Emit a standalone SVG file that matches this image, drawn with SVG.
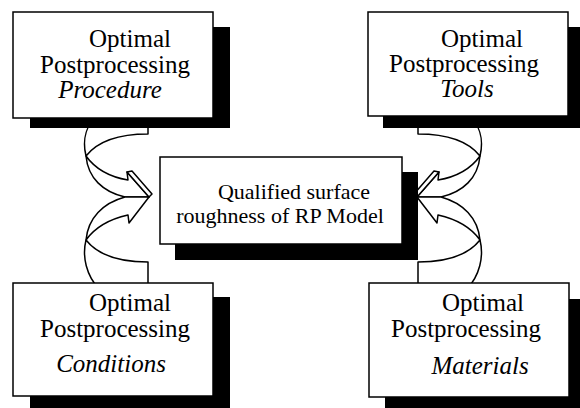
<svg xmlns="http://www.w3.org/2000/svg" width="580" height="408" viewBox="0 0 580 408">
  <style>
    .box { fill: #ffffff; stroke: #000000; stroke-width: 1.5; }
    .shadow { fill: #000000; stroke: none; }
    .arr { fill: #ffffff; stroke: #000000; stroke-width: 1.5; stroke-linejoin: round; }
    .t { font-family: "Liberation Serif", "Times New Roman", serif; font-size: 25px; fill: #000000; text-anchor: middle; }
    .tc { font-family: "Liberation Serif", "Times New Roman", serif; font-size: 22px; fill: #000000; text-anchor: middle; }
    .it { font-style: italic; }
  </style>
  <defs>
    <g id="arrowPair">
      <path class="arr" d="M148,112 L148,134 C118,134 97,142 86,156 C82,140 86,124 100,112 Z"/>
      <path class="arr" d="M86,156 C96,170 110,177 128,180 L127,172 L149,197 L125,197 C103,192 88,178 86,156 Z"/>
      <path class="arr" d="M127,172 L132,171 L152,194 L149,197 Z"/>
      <path class="arr" d="M148,290 L148,262 C118,262 97,254 86,240 C82,256 86,276 100,290 Z"/>
      <path class="arr" d="M86,240 C96,226 110,219 128,215 L129,223 L149,197 L125,197 C103,203 88,218 86,240 Z"/>
    </g>
  </defs>
  <rect width="580" height="408" fill="#ffffff"/>

  <g id="connectors">
    <use href="#arrowPair"/>
    <use href="#arrowPair" transform="translate(566,0) scale(-1,1)"/>
  </g>

  <g id="center">
    <rect class="shadow" x="175" y="172" width="243" height="88"/>
    <rect class="box" x="160" y="157" width="242" height="87"/>
    <text class="tc" x="294" y="199">Qualified surface</text>
    <text class="tc" x="280" y="223">roughness of RP Model</text>
  </g>

  <g id="procedure">
    <rect class="shadow" x="30" y="27" width="200" height="101"/>
    <rect class="box" x="13" y="12" width="200" height="106"/>
    <text class="t" x="130" y="47">Optimal</text>
    <text class="t" x="115" y="73">Postprocessing</text>
    <text class="t it" x="110" y="98">Procedure</text>
  </g>

  <g id="tools">
    <rect class="shadow" x="383" y="27" width="200" height="101"/>
    <rect class="box" x="368" y="12" width="200" height="104"/>
    <text class="t" x="482" y="47">Optimal</text>
    <text class="t" x="464" y="72">Postprocessing</text>
    <text class="t it" x="467" y="97">Tools</text>
  </g>

  <g id="conditions">
    <rect class="shadow" x="30" y="297" width="200" height="115"/>
    <rect class="box" x="13" y="283" width="200" height="113"/>
    <text class="t" x="130" y="311">Optimal</text>
    <text class="t" x="115" y="337">Postprocessing</text>
    <text class="t it" x="111" y="372">Conditions</text>
  </g>

  <g id="materials">
    <rect class="shadow" x="385" y="299" width="200" height="115"/>
    <rect class="box" x="369" y="283" width="200" height="114"/>
    <text class="t" x="483" y="311">Optimal</text>
    <text class="t" x="466" y="337">Postprocessing</text>
    <text class="t it" x="480" y="374">Materials</text>
  </g>
</svg>
